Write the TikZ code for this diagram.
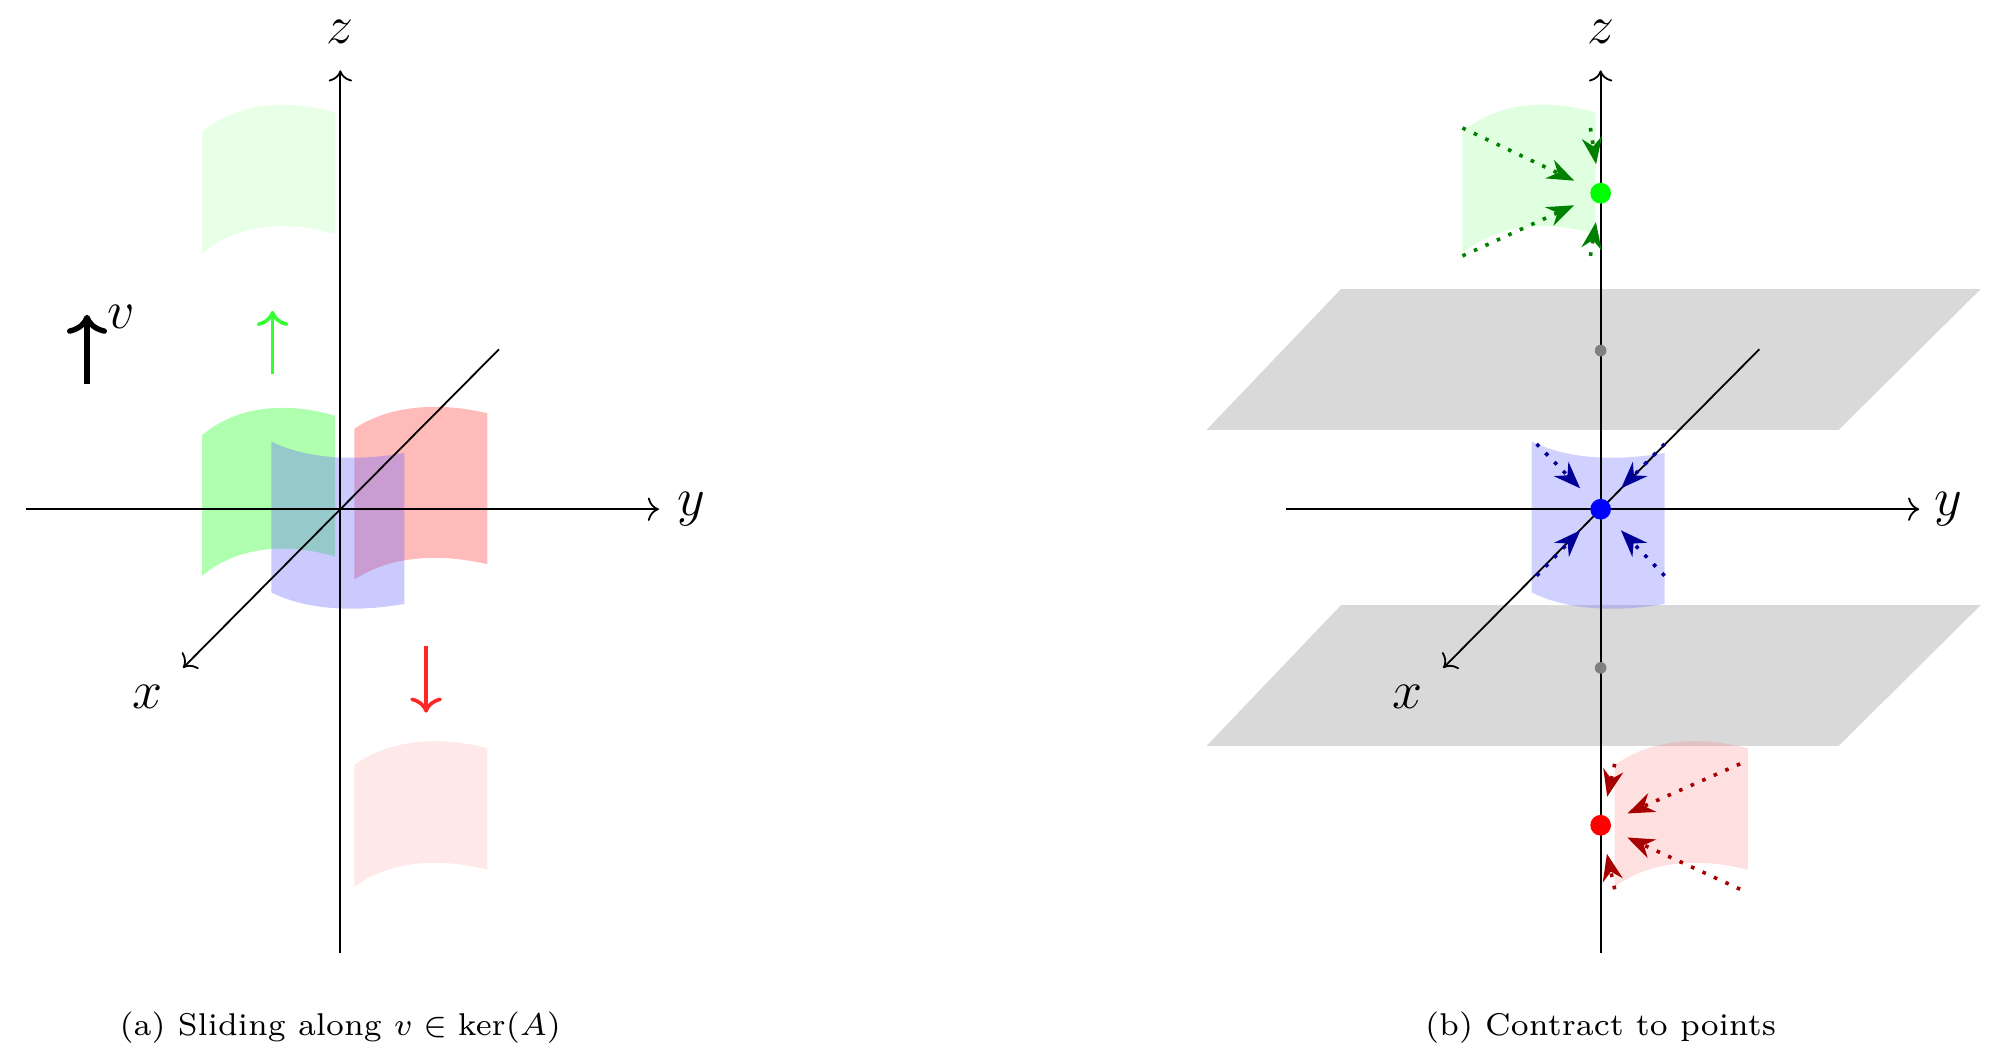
\documentclass[tikz,border=0pt]{standalone}
\usetikzlibrary{arrows.meta}
\begin{document}
\begin{tikzpicture}[x=0.01cm,y=-0.01cm,
  ax/.style={->,thin},
  lab/.style={font=\large},
  darr/.style={dotted,thick,-{Stealth[length=6pt]},shorten >=4pt},
  dotn/.style={circle,fill,inner sep=0pt,minimum size=#1},
  captxt/.style={font=\scriptsize}]
\useasboundingbox (0,0) rectangle (1560,831);
\newcommand\mysheet[6]{%
 \begin{scope}[shift={(#1,#2)}]
 \fill[#6] (0,0) .. controls (30,-#5) and (70,-#5) .. (#3,-0.6*#5) -- (#3,#4-0.6*#5) .. controls (70,#4-#5) and (30,#4-#5) .. (0,#4) -- cycle;
 \end{scope}}
% ---------- left panel
\mysheet{158}{103}{104}{95}{25}{green!60,fill opacity=0.15}
\mysheet{277}{598}{104}{95}{22}{red!60,fill opacity=0.15}
\mysheet{158}{340}{104}{110}{25}{green!70,fill opacity=0.45}
\mysheet{277}{335}{104}{118}{20}{red!60,fill opacity=0.45}
\mysheet{212}{345}{104}{118}{-15}{blue!60,fill opacity=0.35}
\coordinate (O) at (266,398);
\coordinate (zt) at (266,55); \coordinate (zb) at (266,745);
\coordinate (yl) at (20,398); \coordinate (yr) at (515,398);
\coordinate (xa) at (390,273); \coordinate (xb) at (143,522);
\draw[ax] (zb) -- (zt);
\draw[ax] (yl) -- (yr);
\draw[ax] (xa) -- (xb);
\node[lab] (zl) at (266,25) {$z$};
\node[lab] (ylab) at (540,398) {$y$};
\node[lab] (xl) at (115,545) {$x$};
\coordinate (g1) at (213,292); \coordinate (g2) at (213,243);
\draw[->,thick,green!80] (g1) -- (g2);
\coordinate (r1) at (333,505); \coordinate (r2) at (333,557);
\draw[->,thick,red!85] (r1) -- (r2);
\coordinate (v1) at (68,300); \coordinate (v2) at (68,246);
\draw[->,line width=1.2pt] (v1) -- (v2);
\node[lab] (vl) at (95,248) {$v$};
\node[captxt] (ca) at (266,803) {(a) Sliding along $v\in\ker(A)$};
% ---------- right panel
\fill[gray!30] (943,336) -- (1048,226) -- (1548,226) -- (1437,336) -- cycle;
\fill[gray!30] (943,583) -- (1048,473) -- (1548,473) -- (1437,583) -- cycle;
\mysheet{1143}{103}{104}{95}{25}{green!60,fill opacity=0.2}
\mysheet{1197}{345}{104}{118}{-15}{blue!60,fill opacity=0.3}
\mysheet{1262}{598}{104}{95}{22}{red!60,fill opacity=0.2}
\coordinate (zt2) at (1251,55); \coordinate (zb2) at (1251,745);
\coordinate (yl2) at (1005,398); \coordinate (yr2) at (1500,398);
\coordinate (xa2) at (1375,273); \coordinate (xb2) at (1128,522);
\draw[ax] (zb2) -- (zt2);
\draw[ax] (yl2) -- (yr2);
\draw[ax] (xa2) -- (xb2);
\node[lab] (zl2) at (1251,25) {$z$};
\node[lab] (ylab2) at (1523,398) {$y$};
\node[lab] (xl2) at (1100,545) {$x$};
\node[dotn=2.6pt,gray] (p1) at (1251,274) {};
\node[dotn=2.6pt,gray] (p2) at (1251,522) {};
\node[dotn=4.6pt,green] (G) at (1251,151) {};
\node[dotn=4.6pt,blue] (B) at (1251,398) {};
\node[dotn=4.6pt,red] (R) at (1251,645) {};
\begin{scope}[green!50!black]
\coordinate (ga) at (1143,100); \coordinate (gb) at (1143,200);
\coordinate (gc) at (1243,100); \coordinate (gd) at (1243,200);
\draw[darr] (ga) -- (G); \draw[darr] (gb) -- (G);
\draw[darr] (gc) -- (G); \draw[darr] (gd) -- (G);
\end{scope}
\begin{scope}[blue!60!black]
\coordinate (ba) at (1201,347); \coordinate (bb) at (1301,347);
\coordinate (bc) at (1201,450); \coordinate (bd) at (1301,450);
\draw[darr] (ba) -- (B); \draw[darr] (bb) -- (B);
\draw[darr] (bc) -- (B); \draw[darr] (bd) -- (B);
\end{scope}
\begin{scope}[red!65!black]
\coordinate (ra) at (1360,597); \coordinate (rb) at (1360,695);
\coordinate (rc) at (1262,597); \coordinate (rd) at (1262,695);
\draw[darr] (ra) -- (R); \draw[darr] (rb) -- (R);
\draw[darr] (rc) -- (R); \draw[darr] (rd) -- (R);
\end{scope}
\node[captxt] (cb) at (1251,803) {(b) Contract to points};
\end{tikzpicture}
\end{document}
